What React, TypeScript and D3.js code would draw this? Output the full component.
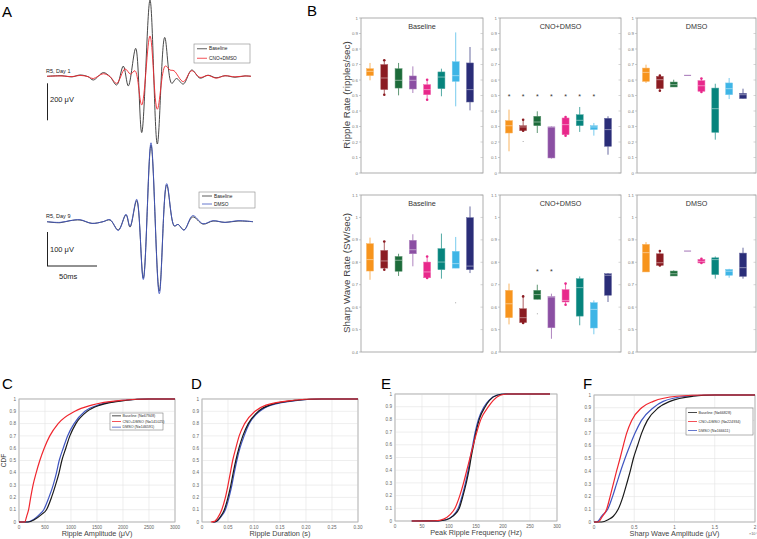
import React from 'react';
import * as d3 from 'd3';

// ---- Panel A traces: [time ms, amplitude uV] read at extrema ----
const day1Baseline: [number, number][] = [
  [-103, 0], [-88, 3], [-78, -3], [-70, 7], [-62, -2], [-56.7, -20], [-46.7, 20], [-40, -2],
  [-33.3, -47], [-26.7, 55], [-21.7, -52], [-14.3, 151], [-8.3, -304], [0, 412], [7.3, -366],
  [14.7, 210], [21.7, -38], [26.5, -12], [33.3, -42], [41.7, 34], [50, -10], [58, 6], [66, -8],
  [75, 3], [85, -5], [95, 2], [101, 0],
];
const day1Cno: [number, number][] = [
  [-103, 0], [-88, 2], [-78, -2], [-70, 5], [-62, -2], [-56.7, -12], [-46.7, 14], [-40, -2],
  [-33.3, -38], [-25, 40], [-19.5, 12], [-15, 30], [-8.3, -155], [0, 218], [7.3, -178],
  [15.3, 56], [20, 34], [24, 30], [33.3, -29], [41.7, 30], [50, -6], [58, 5], [66, -10],
  [75, 3], [85, -3], [95, 2], [101, 0],
];
const day9Baseline: [number, number][] = [
  [-103, 0], [-90, -3], [-80, 3], [-70, 5], [-58, -5], [-47, 0], [-40, 5], [-31.7, -24],
  [-24, 20], [-20, -16], [-13.3, 62], [-6.7, -166], [1, 225], [9.3, -204], [16.7, 108],
  [24.3, -13], [28, -8], [34, -24], [42.7, 14], [53, -7], [63, 2], [75, -2], [88, 2], [103, 0],
];
const day9Dmso: [number, number][] = [
  [-103, 0], [-90, -2], [-80, 3], [-70, 6], [-58, -5], [-47, 0], [-40, 6], [-31.7, -26],
  [-24, 22], [-20, -14], [-13.3, 66], [-6.7, -170], [1, 232], [9.3, -212], [16.7, 112],
  [24.3, -12], [28, -8], [34, -25], [42.7, 18], [53, -6], [63, 3], [75, -2], [88, 3], [103, 0],
];

// ---- Panel B: per animal [lowWhisker, q1, median, q3, highWhisker] ----
const groupColors = ['#f7941d', '#8b1c22', '#1c6b3a', '#8b4fa3', '#e8288b', '#06847d', '#3eb5e6', '#2a2d78'];
const dotWhiskerGroups = [1, 4];

const rippleBaseline = [
  [0.598, 0.628, 0.656, 0.673, 0.71], [0.505, 0.538, 0.613, 0.70, 0.727], [0.501, 0.548, 0.598, 0.673, 0.71],
  [0.516, 0.542, 0.598, 0.626, 0.688], [0.473, 0.505, 0.538, 0.57, 0.602], [0.495, 0.544, 0.619, 0.652, 0.673],
  [0.43, 0.591, 0.628, 0.718, 0.907], [0.404, 0.458, 0.538, 0.71, 0.813],
];
const rippleCno = [
  [0.14, 0.258, 0.305, 0.338, 0.409], [0.273, 0.273, 0.297, 0.305, 0.344], [0.258, 0.305, 0.329, 0.366, 0.398],
  [0.093, 0.097, 0.296, 0.298, 0.302], [0.241, 0.247, 0.312, 0.355, 0.361], [0.265, 0.305, 0.34, 0.376, 0.426],
  [0.241, 0.28, 0.297, 0.305, 0.323], [0.118, 0.172, 0.28, 0.353, 0.366],
];
const rippleDmso = [
  [0.581, 0.591, 0.649, 0.677, 0.699], [0.531, 0.544, 0.602, 0.624, 0.628], [0.555, 0.555, 0.57, 0.587, 0.602],
  [0.63, 0.63, 0.63, 0.63, 0.63], [0.523, 0.527, 0.563, 0.596, 0.609], [0.215, 0.262, 0.415, 0.548, 0.576],
  [0.477, 0.505, 0.544, 0.581, 0.613], [0.48, 0.48, 0.505, 0.514, 0.544],
];
const swBaseline = [
  [0.722, 0.761, 0.812, 0.883, 0.91], [0.767, 0.774, 0.806, 0.853, 0.893], [0.739, 0.76, 0.809, 0.826, 0.838],
  [0.782, 0.838, 0.856, 0.898, 0.925], [0.73, 0.731, 0.757, 0.801, 0.826], [0.727, 0.767, 0.801, 0.861, 0.928],
  [0.774, 0.774, 0.794, 0.849, 0.913], [0.752, 0.767, 0.783, 0.999, 1.049],
];
const swCno = [
  [0.523, 0.553, 0.615, 0.675, 0.705], [0.529, 0.531, 0.553, 0.593, 0.648], [0.635, 0.635, 0.656, 0.675, 0.70],
  [0.459, 0.508, 0.645, 0.648, 0.66], [0.611, 0.623, 0.63, 0.678, 0.705], [0.519, 0.56, 0.687, 0.727, 0.737],
  [0.479, 0.507, 0.59, 0.62, 0.63], [0.623, 0.653, 0.742, 0.749, 0.752],
];
const swDmso = [
  [0.757, 0.757, 0.843, 0.88, 0.89], [0.786, 0.786, 0.798, 0.838, 0.85], [0.739, 0.739, 0.749, 0.761, 0.764],
  [0.85, 0.85, 0.85, 0.85, 0.85], [0.797, 0.797, 0.804, 0.813, 0.816], [0.727, 0.745, 0.812, 0.82, 0.826],
  [0.731, 0.742, 0.76, 0.768, 0.771], [0.727, 0.737, 0.776, 0.841, 0.865],
];
// [group, value]
const rippleCnoOutliers = [[1, 0.204]];
const swBaselineOutliers = [[6, 0.62]];
const swCnoOutliers = [[2, 0.571]];
const rippleCnoStars = [0, 1, 2, 3, 4, 5, 6];
const swCnoStars = [2, 3];
const conditionTitles = ['Baseline', 'CNO+DMSO', 'DMSO'];
const rippleTicks = [0, 0.1, 0.2, 0.3, 0.4, 0.5, 0.6, 0.7, 0.8, 0.9, 1];
const swTicks = [0.4, 0.5, 0.6, 0.7, 0.8, 0.9, 1, 1.1];

// ---- Panels C-F: CDF curves [x, cdf] ----
const ampBaseline = [[0, 0], [174, 0], [300, 0.02], [430, 0.06], [528, 0.1], [625, 0.2], [702, 0.3], [770, 0.4], [824, 0.5], [900, 0.6], [978, 0.7], [1094, 0.8], [1313, 0.9], [1558, 0.95], [2073, 0.99], [2500, 1], [3000, 1]];
const ampCno = [[0, 0], [110, 0], [150, 0.05], [185, 0.1], [225, 0.2], [270, 0.3], [330, 0.4], [400, 0.5], [485, 0.6], [592, 0.7], [753, 0.8], [1075, 0.9], [1397, 0.95], [2000, 0.99], [2500, 1], [3000, 1]];
const ampDmso = [[0, 0], [160, 0], [280, 0.02], [390, 0.06], [476, 0.1], [575, 0.2], [657, 0.3], [720, 0.4], [773, 0.5], [850, 0.6], [934, 0.7], [1060, 0.8], [1268, 0.9], [1520, 0.95], [2040, 0.99], [2500, 1], [3000, 1]];
const durBaseline = [[0.02, 0], [0.027, 0.005], [0.035, 0.04], [0.043, 0.1], [0.05, 0.2], [0.0555, 0.3], [0.06, 0.4], [0.065, 0.5], [0.071, 0.6], [0.0785, 0.7], [0.089, 0.8], [0.1085, 0.9], [0.13, 0.95], [0.183, 0.99], [0.23, 1], [0.3, 1]];
const durCno = [[0.017, 0], [0.024, 0.005], [0.031, 0.04], [0.038, 0.1], [0.045, 0.2], [0.05, 0.3], [0.0545, 0.4], [0.059, 0.5], [0.065, 0.6], [0.0715, 0.7], [0.082, 0.8], [0.102, 0.9], [0.123, 0.95], [0.176, 0.99], [0.22, 1], [0.3, 1]];
const durDmso = [[0.021, 0], [0.028, 0.005], [0.036, 0.04], [0.045, 0.1], [0.052, 0.2], [0.0575, 0.3], [0.062, 0.4], [0.067, 0.5], [0.073, 0.6], [0.081, 0.7], [0.091, 0.8], [0.111, 0.9], [0.133, 0.95], [0.186, 0.99], [0.23, 1], [0.3, 1]];
const freqBaseline = [[31, 0], [80, 0.001], [95, 0.01], [108, 0.04], [119, 0.1], [126, 0.2], [132, 0.3], [137, 0.4], [141, 0.5], [145.5, 0.6], [150, 0.7], [156, 0.8], [167, 0.9], [175, 0.95], [189, 0.99], [205, 1], [287, 1]];
const freqCno = [[31, 0], [75, 0.002], [90, 0.015], [102, 0.05], [111, 0.1], [120, 0.2], [127, 0.3], [133, 0.4], [139, 0.5], [145, 0.6], [151.5, 0.7], [159, 0.8], [173, 0.9], [182, 0.95], [195, 0.99], [210, 1], [287, 1]];
const freqDmso = [[31, 0], [80, 0.001], [94, 0.01], [107, 0.04], [117, 0.1], [124.5, 0.2], [130.5, 0.3], [135.5, 0.4], [139.5, 0.5], [144, 0.6], [148.5, 0.7], [154.5, 0.8], [165, 0.9], [174, 0.95], [188, 0.99], [205, 1], [287, 1]];
const swAmpBaseline = [[0, 0], [0.095, 0], [0.18, 0.02], [0.24, 0.045], [0.3, 0.1], [0.36, 0.2], [0.406, 0.3], [0.45, 0.4], [0.489, 0.5], [0.54, 0.6], [0.592, 0.7], [0.663, 0.8], [0.8, 0.9], [0.944, 0.95], [1.23, 0.99], [1.5, 1], [2, 1]];
const swAmpCno = [[0, 0], [0.054, 0], [0.1, 0.04], [0.157, 0.1], [0.2, 0.2], [0.24, 0.3], [0.28, 0.4], [0.323, 0.5], [0.363, 0.6], [0.406, 0.7], [0.468, 0.8], [0.592, 0.9], [0.737, 0.95], [1.03, 0.99], [1.4, 1], [2, 1]];
const swAmpDmso = [[0, 0], [0.033, 0], [0.1, 0.05], [0.17, 0.1], [0.23, 0.2], [0.28, 0.3], [0.33, 0.4], [0.385, 0.5], [0.445, 0.6], [0.51, 0.7], [0.59, 0.8], [0.737, 0.9], [0.86, 0.95], [1.15, 0.99], [1.5, 1], [2, 1]];
const cdfYTicks = [0, 0.1, 0.2, 0.3, 0.4, 0.5, 0.6, 0.7, 0.8, 0.9, 1];

const FONT = 'Liberation Sans, Arial, sans-serif';
const traceRed = '#f0262e';
const traceBlue = '#3f55c0';

type Pt = [number, number];

function Trace({ data, xs, ys, color, width = 0.9 }: any) {
  const line = d3.line<Pt>().x(d => xs(d[0])).y(d => ys(d[1])).curve(d3.curveCatmullRom.alpha(0.5));
  return <path d={line(data) || ''} fill="none" stroke={color} strokeWidth={width} />;
}

function TraceLegend({ x, y, w, h, labels, colors }: any) {
  return (
    <g>
      <rect x={x} y={y} width={w} height={h} fill="white" stroke="#888" strokeWidth={0.6} />
      {labels.map((l: string, i: number) => {
        const yy = y + h * (i + 0.5) / labels.length;
        return (
          <g key={l}>
            <line x1={x + 3} x2={x + 13} y1={yy} y2={yy} stroke={colors[i]} strokeWidth={0.8} />
            <text x={x + 15} y={yy + 1.7} fontSize={4.8} fontFamily={FONT} fill="#222">{l}</text>
          </g>
        );
      })}
    </g>
  );
}

function PanelA() {
  const xs = d3.scaleLinear().domain([-103, 103]).range([47, 253]);
  const ys1 = d3.scaleLinear().domain([-200, 200]).range([76.3 + 37, 76.3 - 37]);
  const ys2 = d3.scaleLinear().domain([-100, 100]).range([221.7 + 34, 221.7 - 34]);
  return (
    <g>
      <text x={2} y={17} fontSize={15} fontFamily={FONT}>A</text>
      <Trace data={day1Baseline} xs={xs} ys={ys1} color="#333" />
      <Trace data={day1Cno} xs={xs} ys={ys1} color={traceRed} />
      <text x={46} y={73} fontSize={5.5} fontFamily={FONT} fill="#222">R5, Day 1</text>
      <TraceLegend x={194} y={44} w={56} h={19} labels={['Baseline', 'CNO+DMSO']} colors={['#333', traceRed]} />
      <line x1={47.5} x2={47.5} y1={ys1(0) + 7} y2={ys1(0) + 7 + (ys1(0) - ys1(200))} stroke="#222" strokeWidth={1} />
      <text x={50} y={102} fontSize={7.5} fontFamily={FONT} fill="#222">200 μV</text>

      <Trace data={day9Baseline} xs={xs} ys={ys2} color="#333" />
      <Trace data={day9Dmso} xs={xs} ys={ys2} color={traceBlue} />
      <text x={46} y={218} fontSize={5.5} fontFamily={FONT} fill="#222">R5, Day 9</text>
      <TraceLegend x={199} y={192} w={56} h={16} labels={['Baseline', 'DMSO']} colors={['#333', traceBlue]} />
      <line x1={47.5} x2={47.5} y1={232} y2={232 + (ys2(0) - ys2(100))} stroke="#222" strokeWidth={1} />
      <line x1={47} x2={xs(-103 + 50)} y1={266} y2={266} stroke="#222" strokeWidth={1} />
      <text x={50} y={252} fontSize={7.5} fontFamily={FONT} fill="#222">100 μV</text>
      <text x={59} y={279} fontSize={7.5} fontFamily={FONT} fill="#222">50ms</text>
    </g>
  );
}

function BoxPanel({ x0, x1, y0, y1, domain, ticks, stats, title, outliers = [], stars = [], starVal = 0 }: any) {
  const ys = d3.scaleLinear().domain(domain).range([y1, y0]);
  const xs = d3.scalePoint<number>().domain(d3.range(8)).range([x0 + 9, x1 - 13]);
  const bw = 7;
  return (
    <g>
      <rect x={x0} y={y0} width={x1 - x0} height={y1 - y0} fill="white" stroke="#9a9a9a" strokeWidth={0.8} />
      {ticks.map((t: number) => (
        <g key={t}>
          <line x1={x0 - 2} x2={x0} y1={ys(t)} y2={ys(t)} stroke="#aaa" strokeWidth={0.6} />
          <line x1={x1 - 2.5} x2={x1} y1={ys(t)} y2={ys(t)} stroke="#bbb" strokeWidth={0.6} />
          <text x={x0 - 3} y={ys(t) + 1.5} fontSize={4.4} textAnchor="end" fontFamily={FONT} fill="#777">{t}</text>
        </g>
      ))}
      <text x={(x0 + x1) / 2} y={y0 + 11} fontSize={7.2} textAnchor="middle" fontFamily={FONT} fill="#333">{title}</text>
      {stats.map((s: number[], i: number) => {
        const c = groupColors[i];
        const cx = xs(i) as number;
        const light = d3.interpolateRgb(c, '#ffffff')(0.3);
        const dots = dotWhiskerGroups.includes(i);
        return (
          <g key={i}>
            <line x1={cx} x2={cx} y1={ys(s[0])} y2={ys(s[4])} stroke={light} strokeWidth={1} />
            {s[3] - s[1] > 0.004 ? (
              <rect x={cx - bw / 2} y={ys(s[3])} width={bw} height={ys(s[1]) - ys(s[3])} fill={c} stroke={light} strokeWidth={0.5} />
            ) : (
              <line x1={cx - bw / 2} x2={cx + bw / 2} y1={ys(s[2])} y2={ys(s[2])} stroke={c} strokeWidth={0.8} />
            )}
            {s[3] - s[1] > 0.004 && (
              <line x1={cx - bw / 2} x2={cx + bw / 2} y1={ys(s[2])} y2={ys(s[2])} stroke="#fff" strokeOpacity={0.75} strokeWidth={0.6} />
            )}
            {dots && (
              <>
                <circle cx={cx} cy={ys(s[4])} r={1.3} fill={c} />
                <circle cx={cx} cy={ys(s[0])} r={1.3} fill={c} />
              </>
            )}
          </g>
        );
      })}
      {outliers.map((o: number[], k: number) => (
        <circle key={'o' + k} cx={xs(o[0]) as number} cy={ys(o[1])} r={0.5} fill="#888" />
      ))}
      {stars.map((g: number) => (
        <text key={'s' + g} x={xs(g) as number} y={ys(starVal) + 3.3} fontSize={7} textAnchor="middle" fontFamily={FONT} fill="#333">*</text>
      ))}
    </g>
  );
}

function PanelB() {
  const cols = [[361, 483], [500, 621], [637, 756]];
  const top = [18, 173];
  const bot = [195, 352];
  const rip = [rippleBaseline, rippleCno, rippleDmso];
  const sw = [swBaseline, swCno, swDmso];
  return (
    <g>
      <text x={307} y={16} fontSize={15} fontFamily={FONT}>B</text>
      {cols.map((c, i) => (
        <BoxPanel key={'r' + i} x0={c[0]} x1={c[1]} y0={top[0]} y1={top[1]} domain={[0, 1]} ticks={rippleTicks}
          stats={rip[i]} title={conditionTitles[i]}
          outliers={i === 1 ? rippleCnoOutliers : []} stars={i === 1 ? rippleCnoStars : []} starVal={0.497} />
      ))}
      {cols.map((c, i) => (
        <BoxPanel key={'s' + i} x0={c[0]} x1={c[1]} y0={bot[0]} y1={bot[1]} domain={[0.4, 1.1]} ticks={swTicks}
          stats={sw[i]} title={conditionTitles[i]}
          outliers={i === 0 ? swBaselineOutliers : i === 1 ? swCnoOutliers : []} stars={i === 1 ? swCnoStars : []} starVal={0.761} />
      ))}
      <text transform="translate(350,95) rotate(-90)" fontSize={9.8} textAnchor="middle" fontFamily={FONT} fill="#444">Ripple Rate (ripples/sec)</text>
      <text transform="translate(350,273) rotate(-90)" fontSize={9.8} textAnchor="middle" fontFamily={FONT} fill="#444">Sharp Wave Rate (SW/sec)</text>
    </g>
  );
}

function CdfPanel({ letter, lx, x0, x1, y0, y1, domain, xticks, fmt, series, xlabel, legend, showYLabel, exp }: any) {
  const xs = d3.scaleLinear().domain(domain).range([x0, x1]);
  const ys = d3.scaleLinear().domain([0, 1]).range([y1, y0]);
  const line = d3.line<number[]>().x(d => xs(d[0])).y(d => ys(d[1])).curve(d3.curveMonotoneX);
  const colors = ['#1a1a1a', traceRed, traceBlue];
  return (
    <g>
      <text x={lx} y={389} fontSize={15} fontFamily={FONT}>{letter}</text>
      <rect x={x0} y={y0} width={x1 - x0} height={y1 - y0} fill="white" stroke="#bbb" strokeWidth={0.6} />
      {xticks.map((t: number) => (
        <g key={'x' + t}>
          <line x1={xs(t)} x2={xs(t)} y1={y0} y2={y1} stroke="#e3e3e3" strokeWidth={0.6} />
          <text x={xs(t)} y={y1 + 6.5} fontSize={4.6} textAnchor="middle" fontFamily={FONT} fill="#666">{fmt(t)}</text>
        </g>
      ))}
      {cdfYTicks.map(t => (
        <g key={'y' + t}>
          <line x1={x0} x2={x1} y1={ys(t)} y2={ys(t)} stroke="#e3e3e3" strokeWidth={0.6} />
          <text x={x0 - 3} y={ys(t) + 1.6} fontSize={4.6} textAnchor="end" fontFamily={FONT} fill="#666">{t}</text>
        </g>
      ))}
      <rect x={x0} y={y0} width={x1 - x0} height={y1 - y0} fill="none" stroke="#aaa" strokeWidth={0.6} />
      {[2, 0, 1].map(k => (
        <path key={k} d={line(series[k]) || ''} fill="none" stroke={colors[k]} strokeWidth={1.2} />
      ))}
      <text x={(x0 + x1) / 2} y={y1 + 13.5} fontSize={7.3} textAnchor="middle" fontFamily={FONT} fill="#444">{xlabel}</text>
      {showYLabel && (
        <text transform={`translate(6,${(y0 + y1) / 2}) rotate(-90)`} fontSize={6.5} textAnchor="middle" fontFamily={FONT} fill="#444">CDF</text>
      )}
      {exp && <text x={x1 - 6} y={y1 + 13} fontSize={3.8} fontFamily={FONT} fill="#666">×10⁴</text>}
      {legend && (
        <g>
          <rect x={legend.x} y={legend.y} width={legend.w} height={legend.h} fill="white" stroke="#666" strokeWidth={0.5} />
          {legend.labels.map((l: string, i: number) => {
            const yy = legend.y + legend.h * (i + 0.5) / 3;
            return (
              <g key={l}>
                <line x1={legend.x + 2} x2={legend.x + 11} y1={yy} y2={yy} stroke={colors[i]} strokeWidth={0.8} />
                <text x={legend.x + 12.5} y={yy + 1.3} fontSize={3.7} fontFamily={FONT} fill="#333">{l}</text>
              </g>
            );
          })}
        </g>
      )}
    </g>
  );
}

export default function App() {
  const fmtPlain = (t: number) => String(t);
  const fmtDur = (t: number) => (t === 0 ? '0' : t.toFixed(2));
  return (
    <svg width={757} height={539} style={{ display: 'block', position: 'absolute', left: 0, top: 0, background: 'white' }}>
      <PanelA />
      <PanelB />
      <CdfPanel letter="C" lx={2} x0={19} x1={175} y0={399} y1={522} domain={[0, 3000]}
        xticks={[0, 500, 1000, 1500, 2000, 2500, 3000]} fmt={fmtPlain}
        series={[ampBaseline, ampCno, ampDmso]} xlabel="Ripple Amplitude (μV)" showYLabel
        legend={{ x: 110, y: 413, w: 53, h: 17, labels: ['Baseline (N=67948)', 'CNO+DMSO (N=141025)', 'DMSO (N=146591)'] }} />
      <CdfPanel letter="D" lx={191} x0={202} x1={358} y0={399} y1={522} domain={[0, 0.3]}
        xticks={[0, 0.05, 0.1, 0.15, 0.2, 0.25, 0.3]} fmt={fmtDur}
        series={[durBaseline, durCno, durDmso]} xlabel="Ripple Duration (s)" />
      <CdfPanel letter="E" lx={381} x0={395} x1={557} y0={394} y1={521} domain={[0, 300]}
        xticks={[0, 50, 100, 150, 200, 250, 300]} fmt={fmtPlain}
        series={[freqBaseline, freqCno, freqDmso]} xlabel="Peak Ripple Frequency (Hz)" />
      <CdfPanel letter="F" lx={583} x0={594} x1={755} y0={395} y1={522} domain={[0, 2]}
        xticks={[0, 0.5, 1, 1.5, 2]} fmt={fmtPlain} exp
        series={[swAmpBaseline, swAmpCno, swAmpDmso]} xlabel="Sharp Wave Amplitude (μV)"
        legend={{ x: 686, y: 408, w: 67, h: 27, labels: ['Baseline (N=66828)', 'CNO+DMSO (N=224934)', 'DMSO (N=166611)'] }} />
    </svg>
  );
}
